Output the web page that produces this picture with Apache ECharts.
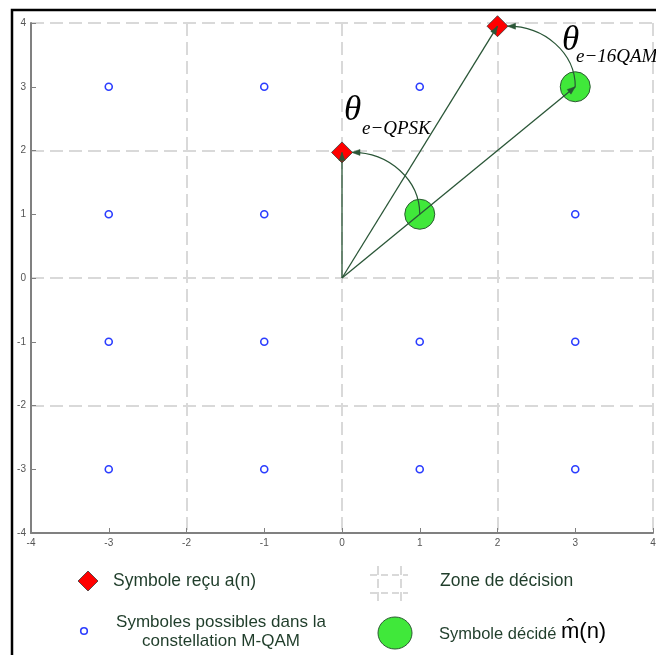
<!DOCTYPE html>
<html>
<head>
<meta charset="utf-8">
<script src="https://cdn.jsdelivr.net/npm/echarts@6/dist/echarts.min.js"></script>
<style>
  html, body { margin: 0; padding: 0; background: #fff; }
  #chart { width: 656px; height: 655px; }
</style>
</head>
<body>
<div id="chart"></div>
<script>
// Axis range and tick labels (in-phase / quadrature)
const axisMin = -4;
const axisMax = 4;
const tickStep = 1;
const decisionStep = 2;

// 16-QAM constellation points
const constellation = [
  [-3, 3], [-1, 3], [1, 3], [3, 3],
  [-3, 1], [-1, 1], [1, 1], [3, 1],
  [-3, -1], [-1, -1], [1, -1], [3, -1],
  [-3, -3], [-1, -3], [1, -3], [3, -3]
];

// Received symbols a(n)
const received = [[0, 1.97], [2, 3.95]];

// Decided symbols m^(n)
const decided = [[1, 1], [3, 3]];

// Vectors drawn from the origin: [x0, y0, x1, y1]
const vectors = [
  [0, 0, 0, 1.97],
  [0, 0, 2, 3.95],
  [0, 0, 3, 3]
];

// Phase-error arcs, decided symbol -> received symbol
const arcs = [
  [1, 1, 0, 1.97],
  [3, 3, 2, 3.95]
];

const lineColor = '#2a5637';
const textColor = '#1f3d2a';
const gridColor = '#d9d9d9';
const axisColor = '#808080';

function arrowHead(tip, dir, len, half) {
  const d = Math.hypot(dir[0], dir[1]) || 1;
  const ux = dir[0] / d, uy = dir[1] / d;
  const bx = tip[0] - ux * len, by = tip[1] - uy * len;
  return {
    type: 'polygon',
    shape: { points: [tip, [bx - uy * half, by + ux * half], [bx + uy * half, by - ux * half]] },
    style: { fill: lineColor, stroke: lineColor, lineWidth: 0.5 }
  };
}

function renderVector(params, api) {
  const p0 = api.coord([api.value(0), api.value(1)]);
  const p1 = api.coord([api.value(2), api.value(3)]);
  return {
    type: 'group',
    children: [
      { type: 'line', shape: { x1: p0[0], y1: p0[1], x2: p1[0], y2: p1[1] },
        style: { stroke: lineColor, lineWidth: 1.3 } },
      arrowHead(p1, [p1[0] - p0[0], p1[1] - p0[1]], 8, 3)
    ]
  };
}

function renderArc(params, api) {
  const p0 = api.coord([api.value(0), api.value(1)]);
  const pe = api.coord([api.value(2), api.value(3)]);
  const tip = [pe[0] + 10, pe[1]];
  const corner = [p0[0], tip[1]];
  const k = 0.5523;
  const c1 = [p0[0] + k * (corner[0] - p0[0]), p0[1] + k * (corner[1] - p0[1])];
  const c2 = [tip[0] + k * (corner[0] - tip[0]), tip[1] + k * (corner[1] - tip[1])];
  return {
    type: 'group',
    children: [
      { type: 'bezierCurve',
        shape: { x1: p0[0], y1: p0[1], cpx1: c1[0], cpy1: c1[1], cpx2: c2[0], cpy2: c2[1], x2: tip[0], y2: tip[1] },
        style: { stroke: lineColor, lineWidth: 1.2, fill: null } },
      arrowHead(tip, [tip[0] - c2[0], tip[1] - c2[1]], 8, 3)
    ]
  };
}

const chart = echarts.init(document.getElementById('chart'), null, { renderer: 'canvas' });

const mainAxis = {
  type: 'value', min: axisMin, max: axisMax, interval: tickStep,
  axisLine: { show: true, onZero: false, lineStyle: { color: axisColor, width: 2 } },
  axisTick: { show: true, inside: true, length: 5, lineStyle: { color: axisColor, width: 1 } },
  axisLabel: { color: '#555', fontSize: 10, fontFamily: 'Liberation Sans', margin: 5 },
  splitLine: { show: false }
};
const zoneAxis = {
  type: 'value', min: axisMin, max: axisMax, interval: decisionStep,
  axisLine: { show: false }, axisTick: { show: false }, axisLabel: { show: false },
  splitLine: { show: true, lineStyle: { color: gridColor, width: 2, type: [13, 6] } }
};

chart.setOption({
  animation: false,
  backgroundColor: '#fff',
  grid: { left: 31, right: 3, top: 23, bottom: 122, containLabel: false, outerBoundsMode: 'none' },
  xAxis: [Object.assign({}, zoneAxis), Object.assign({}, mainAxis, { position: 'bottom' })],
  yAxis: [Object.assign({}, zoneAxis), Object.assign({}, mainAxis, { position: 'left' })],
  series: [
    {
      name: 'Symboles possibles', type: 'scatter', xAxisIndex: 1, yAxisIndex: 1, z: 2,
      symbol: 'circle', symbolSize: 7,
      itemStyle: { color: '#fff', borderColor: '#2b3dff', borderWidth: 1.6, opacity: 1 },
      data: constellation
    },
    {
      name: 'Symbole décidé', type: 'scatter', xAxisIndex: 1, yAxisIndex: 1, z: 3,
      symbol: 'circle', symbolSize: 30,
      itemStyle: { color: '#40e83a', borderColor: '#2d5a33', borderWidth: 1, opacity: 1 },
      data: decided
    },
    {
      name: 'Symbole reçu', type: 'scatter', xAxisIndex: 1, yAxisIndex: 1, z: 4,
      symbol: 'diamond', symbolSize: [21, 21],
      itemStyle: { color: '#ff0000', borderColor: '#3a3a3a', borderWidth: 0.8, opacity: 1 },
      data: received
    },
    {
      type: 'custom', xAxisIndex: 1, yAxisIndex: 1, z: 6, clip: false,
      renderItem: renderVector, encode: { x: [0, 2], y: [1, 3] },
      data: vectors
    },
    {
      type: 'custom', xAxisIndex: 1, yAxisIndex: 1, z: 6, clip: false,
      renderItem: renderArc, encode: { x: [0, 2], y: [1, 3] },
      data: arcs
    }
  ],
  graphic: [
    // frame
    { type: 'polyline', z: 100, shape: { points: [[12, 655], [12, 10], [656, 10]] },
      style: { stroke: '#000', lineWidth: 2.5, fill: null } },
    // phase error labels
    { type: 'text', z: 100, left: 344, top: 93,
      style: { text: 'θ', font: 'italic 35px "Liberation Serif"', fill: '#000' } },
    { type: 'text', z: 100, left: 362, top: 119,
      style: { text: 'e−QPSK', font: 'italic 19px "Liberation Serif"', fill: '#000' } },
    { type: 'text', z: 100, left: 562, top: 23,
      style: { text: 'θ', font: 'italic 35px "Liberation Serif"', fill: '#000' } },
    { type: 'text', z: 100, left: 576, top: 47,
      style: { text: 'e−16QAM', font: 'italic 19px "Liberation Serif"', fill: '#000' } },

    // legend: received symbol
    { type: 'polygon', z: 100, shape: { points: [[88, 571], [98, 581], [88, 591], [78, 581]] },
      style: { fill: '#ff0000', stroke: '#3a3a3a', lineWidth: 0.8 } },
    { type: 'text', z: 100, left: 113, top: 572,
      style: { text: 'Symbole reçu a(n)', font: '17.5px "Liberation Sans"', fill: textColor } },

    // legend: decision zone
    { type: 'line', z: 100, shape: { x1: 370, y1: 575, x2: 408, y2: 575 },
      style: { stroke: gridColor, lineWidth: 2, lineDash: [7, 4] } },
    { type: 'line', z: 100, shape: { x1: 370, y1: 593, x2: 408, y2: 593 },
      style: { stroke: gridColor, lineWidth: 2, lineDash: [7, 4] } },
    { type: 'line', z: 100, shape: { x1: 378, y1: 566, x2: 378, y2: 602 },
      style: { stroke: gridColor, lineWidth: 2, lineDash: [9, 4] } },
    { type: 'line', z: 100, shape: { x1: 401, y1: 566, x2: 401, y2: 602 },
      style: { stroke: gridColor, lineWidth: 2, lineDash: [9, 4] } },
    { type: 'text', z: 100, left: 440, top: 572,
      style: { text: 'Zone de décision', font: '17.5px "Liberation Sans"', fill: textColor } },

    // legend: constellation
    { type: 'circle', z: 100, shape: { cx: 84, cy: 631, r: 3.3 },
      style: { fill: '#fff', stroke: '#2b3dff', lineWidth: 1.6 } },
    { type: 'text', z: 100, x: 221, y: 613,
      style: { text: 'Symboles possibles dans la\nconstellation M-QAM', font: '17px "Liberation Sans"',
        fill: textColor, align: 'center', lineHeight: 19 } },

    // legend: decided symbol
    { type: 'ellipse', z: 100, shape: { cx: 395, cy: 633, rx: 17, ry: 16 },
      style: { fill: '#40e83a', stroke: '#2d5a33', lineWidth: 1 } },
    { type: 'text', z: 100, left: 439, top: 621,
      style: { text: '{a|Symbole décidé }{b|m\u0302(n)}', fill: textColor,
        rich: {
          a: { font: '16.5px "Liberation Sans"', fill: textColor, verticalAlign: 'bottom' },
          b: { font: '22px "Liberation Sans"', fill: '#000', verticalAlign: 'bottom' }
        } } }
  ]
});
</script>
</body>
</html>
